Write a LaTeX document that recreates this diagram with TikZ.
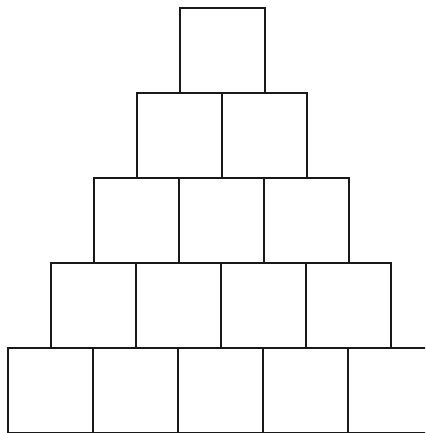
\documentclass[tikz,border=0pt]{standalone}
\begin{document}
\begin{tikzpicture}[x=1pt,y=-1pt,
  brick/.style={draw=black!90, line width=2.6pt, minimum width=85pt, minimum height=85pt, inner sep=0pt, outer sep=0pt, anchor=north west}]
\useasboundingbox (0,0) rectangle (425,433);
\clip (0,0) rectangle (425,433);
\foreach \r in {1,...,5}{
  \foreach \c in {1,...,\r}{
    \node[brick] (b\r\c) at ({180-43*(\r-1)+85*(\c-1)},{8+85*(\r-1)}) {};
  }
}
\end{tikzpicture}
\end{document}
